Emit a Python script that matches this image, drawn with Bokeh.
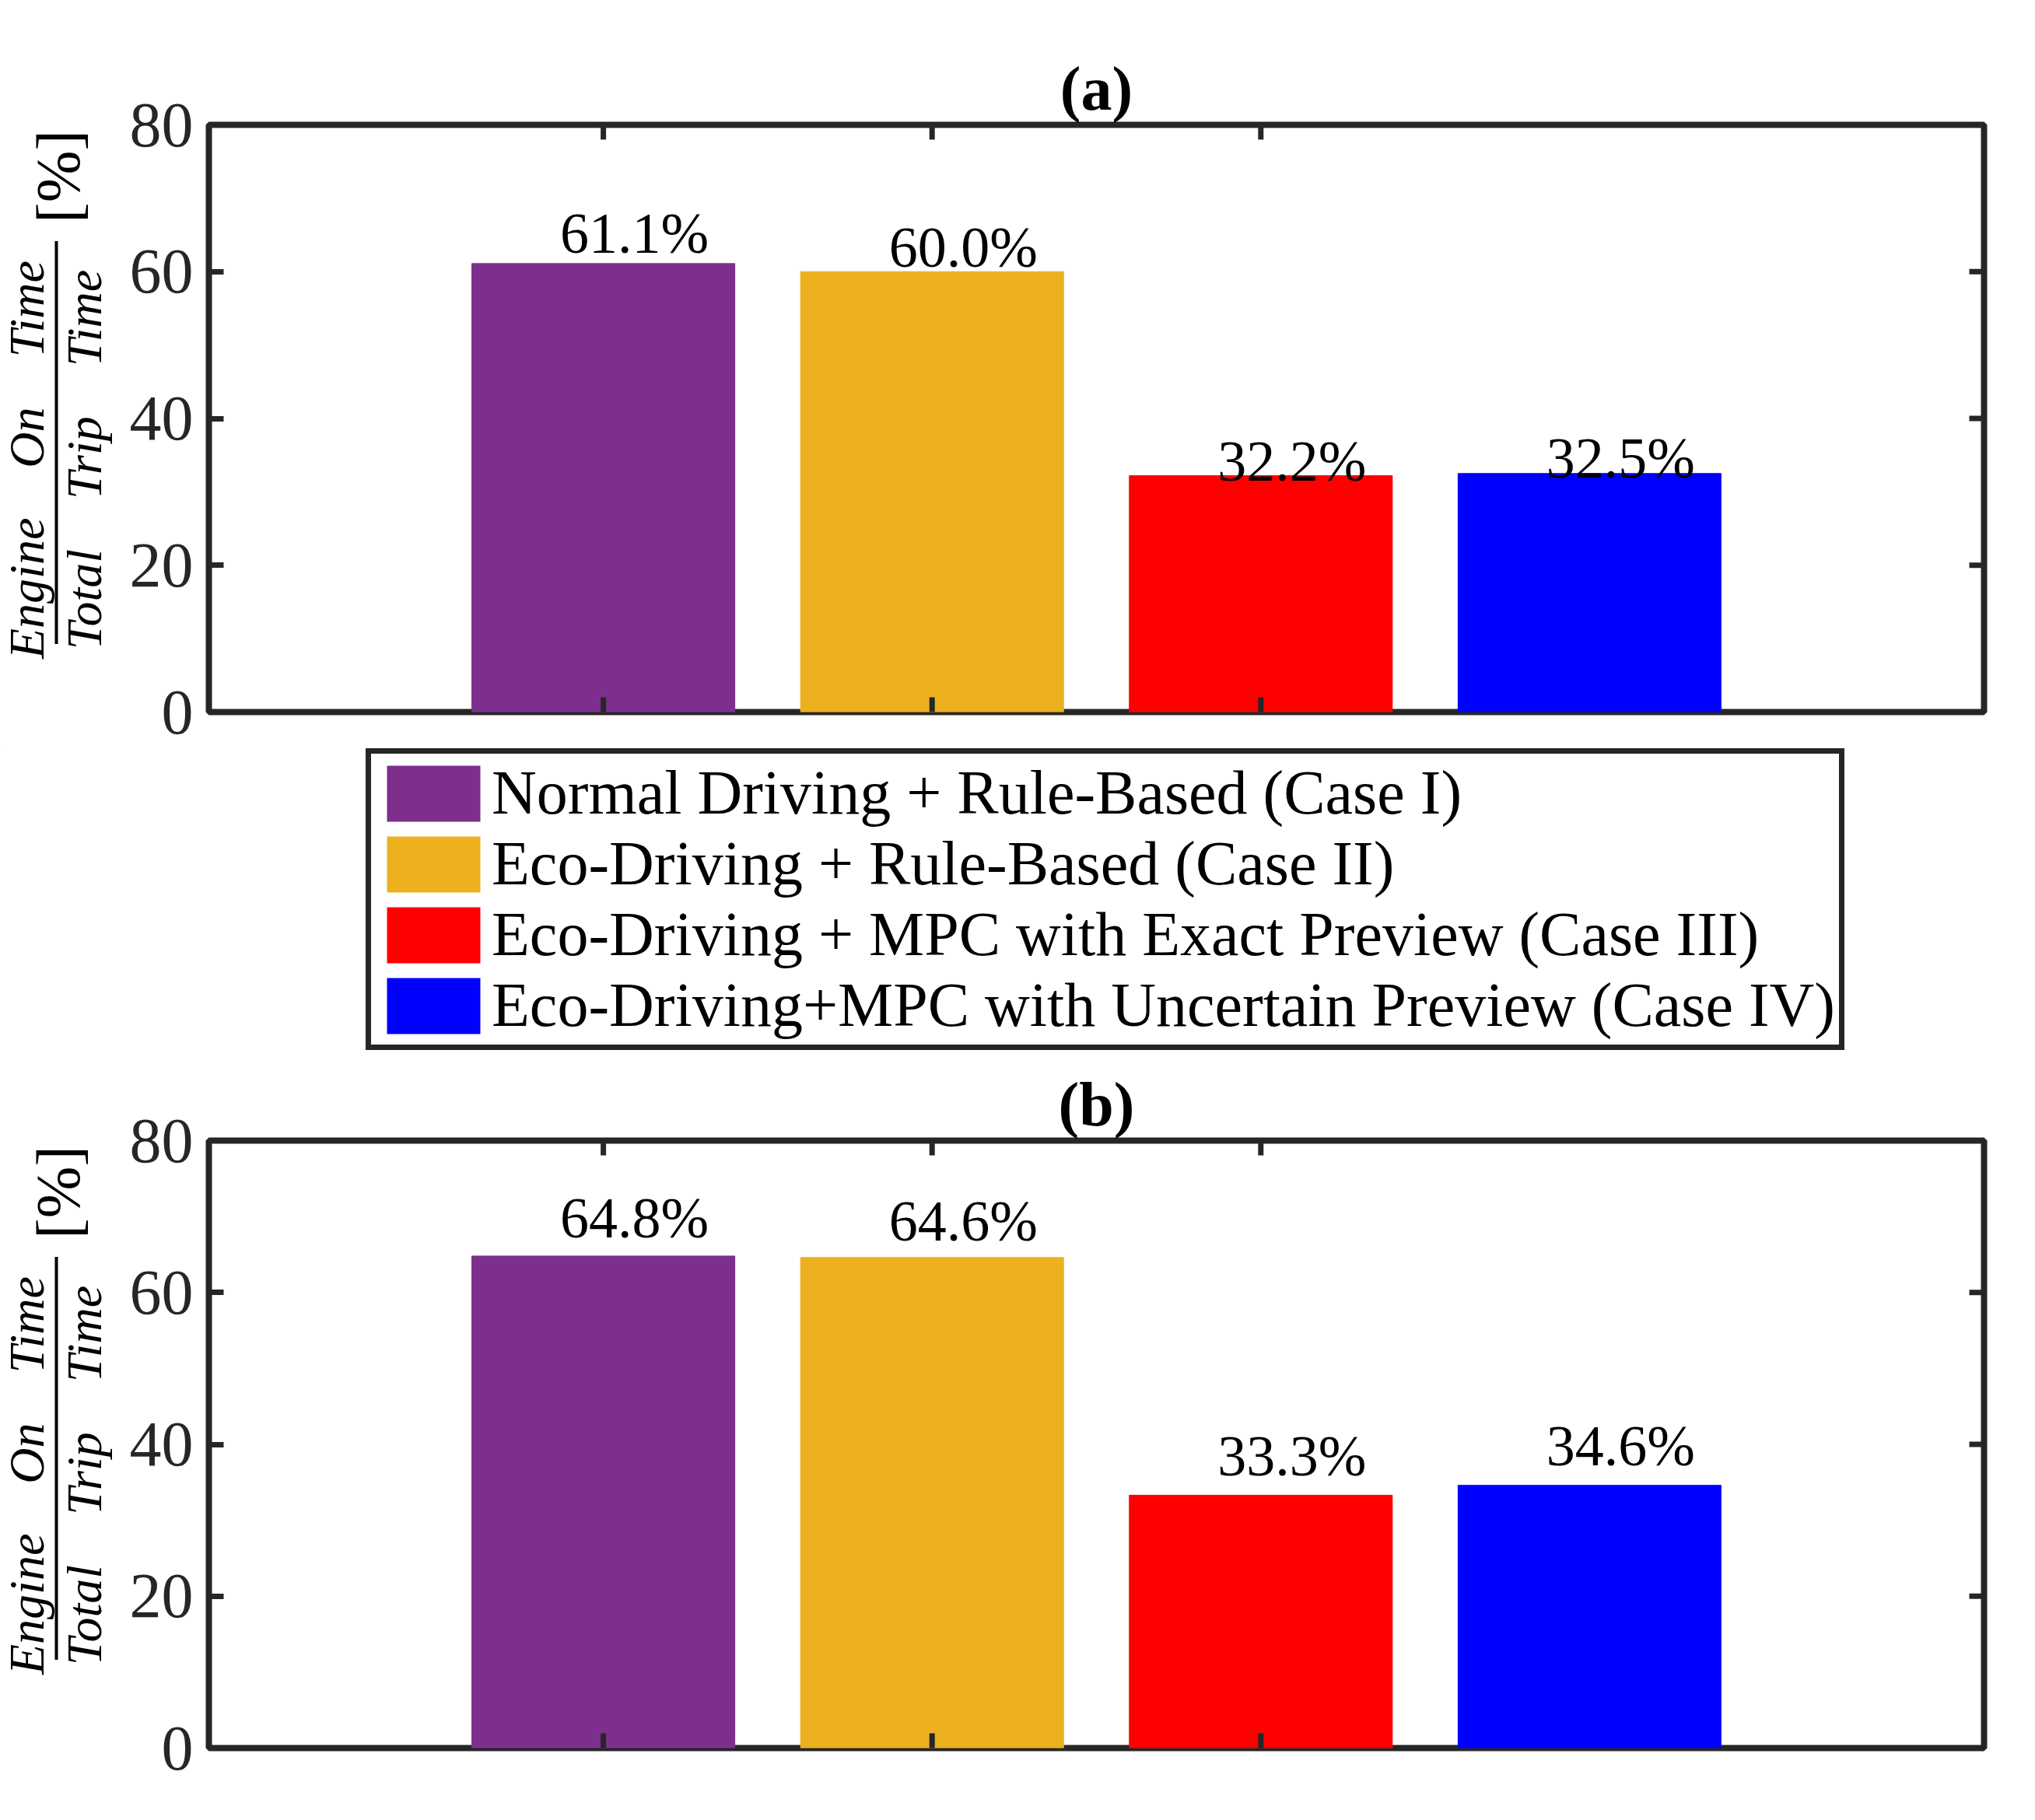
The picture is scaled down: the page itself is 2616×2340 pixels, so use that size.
import math
from bokeh.plotting import figure
from bokeh.models import (Legend, LegendItem, FixedTicker, Label,
                          BoxAnnotation, ColumnDataSource)
from bokeh.layouts import column, row
from bokeh.core.properties import value
from bokeh.embed import file_html
from bokeh.resources import INLINE

# ---------------- data ----------------
cases = ["Normal Driving + Rule-Based (Case I)",
         "Eco-Driving + Rule-Based (Case II)",
         "Eco-Driving + MPC with Exact Preview (Case III)",
         "Eco-Driving+MPC with Uncertain Preview (Case IV)"]
positions = [1, 2, 3, 4]
values_a = [61.1, 60.0, 32.2, 32.5]
values_b = [64.8, 64.6, 33.3, 34.6]
y_ticks = [0, 20, 40, 60, 80]
x_ticks = [1, 2, 3]
titles = ["(a)", "(b)"]
ylabel_num = "Engine\u2003On\u2003Time"
ylabel_den = "Total\u2003Trip\u2003Time"
ylabel_unit = "[%]"

# ---------------- style ----------------
colors = ["#7E2F8E", "#EDB120", "#FF0000", "#0000FF"]
AX = "#262626"
FONT = "Liberation Serif"
label_dy_a = [-39, -31, -19, -20]
label_dy_b = [-49, -47, -50, -51]

LAB_W = 163
W = 2600 - LAB_W
BL, BR = 102, 50
YFIX = -22   # vertical correction for rotated label placement


def blank_fig(width, height, **kw):
    f = figure(width=width, height=height, output_backend="svg", toolbar_location=None,
               x_axis_location=None, y_axis_location=None, title_location=None,
               min_border=0, min_border_left=0, min_border_right=0,
               min_border_top=0, min_border_bottom=0, **kw)
    f.grid.visible = False
    f.outline_line_color = None
    f.background_fill_color = "white"
    f.border_fill_color = "white"
    return f


def make_panel(vals, title, height, btop, bbot, dys):
    p = figure(width=W, height=height, x_range=(-0.2, 5.2), y_range=(0, 80),
               output_backend="svg", toolbar_location=None,
               min_border_left=BL, min_border_right=BR,
               min_border_top=btop, min_border_bottom=bbot)
    p.xgrid.visible = False
    p.ygrid.visible = False
    p.outline_line_color = AX
    p.outline_line_width = 8
    p.background_fill_color = "white"
    p.border_fill_color = "white"

    p.title.text = title
    p.title.align = "center"
    p.title.text_font = FONT
    p.title.text_font_style = "bold"
    p.title.text_font_size = "80px"
    p.title.text_color = "black"
    p.title.standoff = 6

    src = ColumnDataSource(dict(
        x=positions, top=vals, txt=["%.1f%%" % v for v in vals], dy=dys))
    for i in range(len(positions)):
        p.vbar(x=[positions[i]], top=[vals[i]], width=0.8,
               fill_color=colors[i], line_color=colors[i], line_width=1)
    p.text(x="x", y="top", text="txt", source=src, x_offset=40, y_offset="dy",
           text_align="center", text_baseline="alphabetic",
           text_font=value(FONT), text_font_size="74px", text_color="black")

    ax = p.yaxis[0]
    ax.ticker = FixedTicker(ticks=y_ticks)
    ax.minor_tick_line_color = None
    ax.major_tick_in = 19
    ax.major_tick_out = 0
    ax.major_tick_line_width = 7
    ax.major_tick_line_color = AX
    ax.axis_line_color = None
    ax.major_label_text_font = FONT
    ax.major_label_text_font_size = "82px"
    ax.major_label_text_color = AX
    ax.major_label_standoff = 20
    p.xaxis.visible = False

    # inward ticks on the other three sides (clipped to the frame)
    x1 = p.x_range.end
    y0, y1 = p.y_range.start, p.y_range.end
    tick = dict(marker="dash", size=38, line_width=7, line_color=AX)
    p.scatter(x=x_ticks, y=[y0] * len(x_ticks), angle=math.pi / 2, **tick)
    p.scatter(x=x_ticks, y=[y1] * len(x_ticks), angle=math.pi / 2, **tick)
    p.scatter(x=[x1] * len(y_ticks), y=y_ticks, **tick)

    # y label (fraction) in its own strip to the left
    lab = blank_fig(LAB_W, height)
    fh = height - btop - bbot
    yc = bbot + fh / 2 - 78 + YFIX
    common = dict(x_units="screen", y_units="screen", angle=math.pi / 2,
                  text_font=FONT, text_color="black", text_align="center",
                  text_baseline="middle")
    lab.add_layout(Label(x=34, y=yc, text=ylabel_num,
                         text_font_style="italic", text_font_size="64px", **common))
    lab.add_layout(Label(x=108, y=yc, text=ylabel_den,
                         text_font_style="italic", text_font_size="64px", **common))
    lab.add_layout(Label(x=74, y=bbot + fh / 2 + 286 + YFIX, text=ylabel_unit,
                         text_font_size="80px", **common))
    lab.add_layout(BoxAnnotation(left=70, right=74,
                                 bottom=bbot + fh / 2 - 78 - 259,
                                 top=bbot + fh / 2 - 78 + 259,
                                 left_units="screen", right_units="screen",
                                 top_units="screen", bottom_units="screen",
                                 fill_color="black", fill_alpha=1.0, line_color=None))
    return row(lab, p, spacing=0)


rowA = make_panel(values_a, titles[0], 962, 160, 47, label_dy_a)
rowB = make_panel(values_b, titles[1], 953, 112, 60, label_dy_b)

# legend strip between the two panels (its bars lie far outside its view)
leg_fig = blank_fig(2600, 392, x_range=(100, 101), y_range=(-200, -100))
items = []
for i in range(len(cases)):
    r = leg_fig.vbar(x=[positions[i]], top=[values_a[i]], width=0.8,
                     fill_color=colors[i], line_color=None)
    items.append(LegendItem(label=cases[i], renderers=[r]))
legend = Legend(items=items, location=(470, 4), orientation="vertical")
legend.label_text_font = FONT
legend.label_text_font_size = "80px"
legend.label_text_color = "black"
legend.glyph_width = 150
legend.glyph_height = 90
legend.label_height = 80
legend.label_standoff = 0
legend.spacing = 0
legend.padding = 5
legend.margin = 0
legend.border_line_color = AX
legend.border_line_alpha = 1.0
legend.border_line_width = 7
legend.background_fill_color = "white"
legend.background_fill_alpha = 1.0
leg_fig.add_layout(legend)

layout = column(rowA, leg_fig, rowB, spacing=0)
open("out.html", "w").write(file_html(layout, INLINE))
